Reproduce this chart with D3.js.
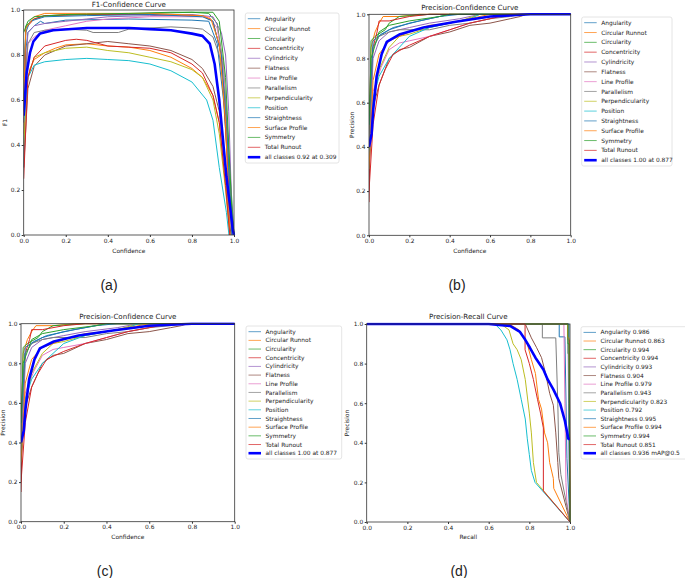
<!DOCTYPE html>
<html>
<head>
<meta charset="utf-8">
<script src="https://cdn.jsdelivr.net/npm/d3@7"></script>
<style>
	body { margin: 0; background: #fff; }
	svg { display: block; }
</style>
</head>
<body>
<div id="chart"></div>
<script>

// classes, in legend order
const classes = ['Angularity','Circular Runnot','Circularity','Concentricity','Cylindricity','Flatness','Line Profile',
	'Parallelism','Perpendicularity','Position','Straightness','Surface Profile','Symmetry','Total Runout']
const colors = ['#1f77b4','#ff7f0e','#2ca02c','#d62728','#9467bd','#8c564b','#e377c2',
	'#7f7f7f','#bcbd22','#17becf','#1f77b4','#ff7f0e','#2ca02c','#d62728']
const ticks = [0, 0.2, 0.4, 0.6, 0.8, 1.0]
const apValues = [0.986,0.863,0.994,0.994,0.993,0.904,0.979,0.943,0.823,0.792,0.995,0.994,0.994,0.851]

// F1 vs confidence, one array per class
const f1Data = [
	[[0,0.3],[0.01,0.82],[0.02,0.9],[0.05,0.93],[0.08,0.95],[0.1,0.94],[0.2,0.955],[0.5,0.96],[0.8,0.955],[0.88,0.95],[0.92,0.85],[0.95,0.6],[0.98,0.2],[0.995,0]],
	[[0,0.45],[0.01,0.65],[0.03,0.74],[0.05,0.78],[0.1,0.81],[0.15,0.83],[0.2,0.845],[0.3,0.85],[0.4,0.84],[0.5,0.835],[0.6,0.82],[0.7,0.79],[0.8,0.74],[0.85,0.7],[0.9,0.62],[0.93,0.5],[0.96,0.25],[0.98,0]],
	[[0,0.6],[0.01,0.93],[0.05,0.96],[0.1,0.975],[0.3,0.98],[0.6,0.985],[0.8,0.99],[0.88,0.985],[0.92,0.94],[0.95,0.75],[0.98,0.3],[1.0,0]],
	[[0,0.5],[0.01,0.92],[0.05,0.96],[0.1,0.975],[0.3,0.98],[0.6,0.98],[0.85,0.975],[0.9,0.95],[0.94,0.8],[0.97,0.3],[0.99,0]],
	[[0,0.55],[0.02,0.9],[0.05,0.93],[0.1,0.94],[0.2,0.95],[0.3,0.96],[0.4,0.97],[0.6,0.975],[0.8,0.98],[0.9,0.97],[0.94,0.9],[0.96,0.8],[0.975,0.55],[0.99,0.1],[1.0,0]],
	[[0,0.3],[0.02,0.65],[0.05,0.75],[0.1,0.8],[0.2,0.84],[0.3,0.85],[0.4,0.86],[0.5,0.85],[0.6,0.84],[0.7,0.82],[0.8,0.78],[0.85,0.74],[0.9,0.66],[0.93,0.55],[0.96,0.3],[0.985,0]],
	[[0,0.5],[0.02,0.85],[0.05,0.88],[0.1,0.91],[0.2,0.93],[0.3,0.95],[0.4,0.96],[0.5,0.965],[0.6,0.97],[0.88,0.97],[0.92,0.92],[0.95,0.75],[0.97,0.4],[0.99,0]],
	[[0,0.6],[0.02,0.85],[0.05,0.9],[0.1,0.91],[0.2,0.915],[0.3,0.91],[0.33,0.9],[0.45,0.9],[0.5,0.915],[0.6,0.92],[0.7,0.925],[0.8,0.92],[0.85,0.915],[0.9,0.88],[0.93,0.8],[0.96,0.6],[0.98,0.2],[0.99,0]],
	[[0,0.4],[0.02,0.7],[0.05,0.79],[0.1,0.81],[0.2,0.83],[0.3,0.835],[0.4,0.82],[0.5,0.81],[0.6,0.79],[0.7,0.77],[0.8,0.735],[0.85,0.7],[0.9,0.6],[0.93,0.45],[0.96,0.2],[0.98,0]],
	[[0,0.5],[0.02,0.7],[0.05,0.755],[0.1,0.77],[0.2,0.78],[0.3,0.785],[0.4,0.78],[0.5,0.775],[0.6,0.76],[0.7,0.73],[0.8,0.68],[0.87,0.6],[0.9,0.51],[0.93,0.3],[0.964,0.1],[0.976,0]],
	[[0,0.7],[0.01,0.9],[0.03,0.95],[0.1,0.97],[0.3,0.975],[0.6,0.98],[0.85,0.97],[0.9,0.95],[0.94,0.8],[0.97,0.4],[0.99,0]],
	[[0,0.6],[0.01,0.92],[0.05,0.97],[0.1,0.985],[0.3,0.985],[0.6,0.985],[0.85,0.975],[0.89,0.96],[0.93,0.85],[0.96,0.5],[0.98,0]],
	[[0,0.9],[0.02,0.95],[0.05,0.97],[0.2,0.98],[0.5,0.985],[0.7,0.99],[0.9,0.99],[0.93,0.95],[0.96,0.7],[0.99,0.1],[1.0,0]],
	[[0,0.25],[0.02,0.7],[0.05,0.79],[0.1,0.84],[0.2,0.865],[0.25,0.87],[0.3,0.865],[0.4,0.84],[0.5,0.835],[0.6,0.83],[0.7,0.81],[0.8,0.76],[0.85,0.72],[0.9,0.62],[0.93,0.5],[0.96,0.22],[0.98,0]]
]
const f1All = [[0,0.53],[0.014,0.72],[0.03,0.81],[0.046,0.86],[0.078,0.896],[0.14,0.91],[0.3,0.92],[0.5,0.92],[0.6,0.915],[0.7,0.91],[0.8,0.895],[0.85,0.885],[0.885,0.85],[0.908,0.76],[0.93,0.6],[0.964,0.26],[0.995,0.02],[1.0,0]]

// precision vs confidence
const pcData = [
	[[0,0.3],[0.01,0.7],[0.02,0.85],[0.05,0.9],[0.1,0.93],[0.2,0.96],[0.3,0.98],[0.4,1],[1,1]],
	[[0,0.4],[0.01,0.85],[0.03,0.92],[0.05,0.96],[0.07,0.99],[0.15,0.99],[0.25,1],[1,1]],
	[[0,0.3],[0.01,0.88],[0.03,0.9],[0.08,0.93],[0.1,0.96],[0.15,0.99],[0.3,1],[1,1]],
	[[0,0.15],[0.01,0.7],[0.02,0.85],[0.04,0.92],[0.05,0.97],[0.1,0.97],[0.2,0.99],[0.3,1],[1,1]],
	[[0,0.3],[0.02,0.8],[0.05,0.88],[0.1,0.92],[0.2,0.94],[0.3,0.96],[0.45,0.98],[0.55,1],[1,1]],
	[[0,0.3],[0.02,0.58],[0.05,0.68],[0.1,0.8],[0.15,0.84],[0.2,0.85],[0.3,0.9],[0.4,0.92],[0.5,0.95],[0.6,0.96],[0.7,0.98],[0.75,0.99],[0.78,1],[1,1]],
	[[0,0.35],[0.02,0.65],[0.06,0.76],[0.1,0.84],[0.15,0.87],[0.2,0.88],[0.3,0.9],[0.4,0.93],[0.5,0.96],[0.6,0.98],[0.65,1],[1,1]],
	[[0,0.4],[0.02,0.85],[0.05,0.9],[0.1,0.92],[0.15,0.93],[0.3,0.93],[0.4,0.95],[0.5,0.96],[0.6,0.98],[0.7,0.99],[0.75,1],[1,1]],
	[[0,0.35],[0.02,0.6],[0.05,0.75],[0.1,0.85],[0.15,0.9],[0.2,0.91],[0.3,0.94],[0.45,0.97],[0.55,1],[1,1]],
	[[0,0.35],[0.02,0.62],[0.05,0.72],[0.1,0.8],[0.15,0.85],[0.2,0.9],[0.3,0.94],[0.4,0.96],[0.5,0.98],[0.55,1],[1,1]],
	[[0,0.5],[0.02,0.88],[0.06,0.91],[0.12,0.94],[0.25,0.97],[0.35,0.99],[0.45,1],[1,1]],
	[[0,0.3],[0.02,0.7],[0.05,0.82],[0.1,0.88],[0.2,0.92],[0.3,0.95],[0.4,0.96],[0.5,0.98],[0.6,1],[1,1]],
	[[0,0.5],[0.01,0.8],[0.05,0.92],[0.1,0.95],[0.2,0.97],[0.35,0.99],[0.4,1],[1,1]],
	[[0,0.2],[0.02,0.5],[0.05,0.68],[0.08,0.75],[0.12,0.82],[0.2,0.86],[0.3,0.9],[0.4,0.93],[0.5,0.96],[0.6,0.98],[0.7,1],[1,1]]
]
const pcAll = [[0,0.4],[0.013,0.46],[0.021,0.57],[0.038,0.72],[0.063,0.82],[0.088,0.875],[0.154,0.91],[0.27,0.94],[0.43,0.966],[0.6,0.99],[0.8,1],[1,1]]

// precision vs recall
const prData = [
	[[0,1],[0.947,1],[0.947,0.935],[0.975,0.935],[0.985,0.32],[1,0]],
	[[0,1],[0.7,1],[0.75,0.97],[0.79,0.9],[0.81,0.82],[0.83,0.75],[0.845,0.62],[0.86,0.57],[0.875,0.45],[0.89,0.4],[0.9,0.3],[0.918,0.22],[0.92,0.17],[1,0]],
	[[0,1],[0.99,1],[0.99,0.85],[0.997,0.85],[1,0]],
	[[0,1],[0.99,1],[0.99,0.92],[0.997,0.92],[1,0]],
	[[0,1],[0.99,1],[0.993,0.6],[0.997,0.2],[1,0]],
	[[0,1],[0.78,1],[0.81,0.93],[0.836,0.88],[0.86,0.83],[0.88,0.75],[0.9,0.65],[0.918,0.59],[0.93,0.45],[0.94,0.3],[0.945,0.22],[1,0]],
	[[0,1],[0.97,1],[0.975,0.6],[0.98,0.2],[0.985,0.1],[1,0]],
	[[0,1],[0.864,1],[0.864,0.93],[0.93,0.93],[0.94,0.6],[0.945,0.35],[0.955,0.24],[1,0]],
	[[0,1],[0.66,1],[0.7,0.97],[0.72,0.9],[0.74,0.87],[0.76,0.82],[0.78,0.72],[0.8,0.55],[0.81,0.45],[0.82,0.3],[0.835,0.2],[1,0]],
	[[0,1],[0.63,1],[0.66,0.97],[0.69,0.92],[0.705,0.87],[0.72,0.8],[0.74,0.72],[0.76,0.62],[0.78,0.52],[0.79,0.42],[0.8,0.34],[0.81,0.26],[0.828,0.2],[1,0]],
	[[0,1],[0.995,1],[0.995,0.5],[1,0]],
	[[0,1],[0.988,1],[0.988,0.93],[0.995,0.93],[1,0]],
	[[0,1],[0.99,1],[0.99,0.9],[0.995,0.9],[1,0]],
	[[0,1],[0.779,1],[0.779,0.87],[0.8,0.8],[0.82,0.72],[0.84,0.62],[0.855,0.55],[0.869,0.475],[0.869,0.157],[1,0]]
]
const prAll = [[0,1],[0.6,1],[0.65,0.995],[0.705,0.99],[0.754,0.96],[0.78,0.92],[0.803,0.88],[0.83,0.83],[0.869,0.77],[0.89,0.72],[0.918,0.67],[0.951,0.6],[0.975,0.51],[0.992,0.42],[1,0.42]]

const svg = d3.select('#chart').append('svg').attr('width', 685).attr('height', 578)
const font = 'DejaVu Sans, sans-serif'
const fs = 5.9, titleFs = 7.1

// layout per panel: plot box [x0,y0,x1,y1], legend box, text spots
const panels = [
	{ id:'a', box:[23.7,10,234,235], title:'F1-Confidence Curve', titleY:4, xl:'Confidence', xlY:251, yl:'F1', ylX:5,
	  data:f1Data, all:f1All, allLabel:'all classes 0.92 at 0.309', legend:[245.3,13,339,163], labels:classes, cap:[109,285,'(a)'] },
	{ id:'b', box:[369,14.3,570.7,235.3], title:'Precision-Confidence Curve', titleY:7.5, xl:'Confidence', xlY:251, yl:'Precision', ylX:351.5,
	  data:pcData, all:pcAll, allLabel:'all classes 1.00 at 0.877', legend:[581.7,17,672,166], labels:classes, cap:[457,285,'(b)'] },
	{ id:'c', box:[21,323.7,234.7,521.7], title:'Precision-Confidence Curve', titleY:317, xl:'Confidence', xlY:537, yl:'Precision', ylX:3,
	  data:pcData, all:pcAll, allLabel:'all classes 1.00 at 0.877', legend:[246,326,341.7,459], labels:classes, cap:[105,571,'(c)'] },
	{ id:'d', box:[366.7,324,570,522], title:'Precision-Recall Curve', titleY:317, xl:'Recall', xlY:537, yl:'Precision', ylX:347,
	  data:prData, all:prAll, allLabel:'all classes 0.936 mAP@0.5', legend:[581,326.7,700,459],
	  labels:classes.map((c,i)=>c+' '+apValues[i].toFixed(3)), cap:[459,571,'(d)'] }
]

panels.forEach(drawPanel)

function drawPanel(p) {
	let [x0,y0,x1,y1] = p.box
	let x = d3.scaleLinear().domain([0,1]).range([x0,x1])
	let y = d3.scaleLinear().domain([0,1]).range([y1,y0])
	let g = svg.append('g')

	svg.append('clipPath').attr('id','clip-'+p.id)
		.append('rect').attr('x',x0).attr('y',y0-1.5).attr('width',x1-x0+1.5).attr('height',y1-y0+1.5)

	let line = d3.line().x(d=>x(d[0])).y(d=>y(d[1]))
	let lines = g.append('g').attr('clip-path',`url(#clip-${p.id})`)
	lines.selectAll('path.cls').data(p.data).join('path').attr('class','cls')
		.attr('d', line).attr('fill','none').attr('stroke',(d,i)=>colors[i]).attr('stroke-width',1)
	lines.append('path').datum(p.all).attr('d', line).attr('fill','none')
		.attr('stroke','#0000ff').attr('stroke-width',2.6).attr('stroke-linejoin','round')

	let fmt = d3.format('.1f')
	let xa = g.append('g').attr('transform',`translate(0,${y1})`)
		.call(d3.axisBottom(x).tickValues(ticks).tickFormat(fmt).tickSize(2).tickPadding(1.5))
	let ya = g.append('g').attr('transform',`translate(${x0},0)`)
		.call(d3.axisLeft(y).tickValues(ticks).tickFormat(fmt).tickSize(2).tickPadding(1.5))
	;[xa,ya].forEach(a => {
		a.select('.domain').remove()
		a.selectAll('line').attr('stroke','#333')
		a.selectAll('text').attr('font-family',font).attr('font-size',fs).attr('fill','#222')
	})

	g.append('rect').attr('x',x0).attr('y',y0).attr('width',x1-x0).attr('height',y1-y0)
		.attr('fill','none').attr('stroke','#333').attr('stroke-width',0.8)

	g.append('text').attr('x',(x0+x1)/2).attr('y',p.titleY).attr('dy','0.35em').attr('text-anchor','middle')
		.attr('font-family',font).attr('font-size',titleFs).attr('fill','#222').text(p.title)
	g.append('text').attr('x',(x0+x1)/2).attr('y',p.xlY).attr('dy','0.35em').attr('text-anchor','middle')
		.attr('font-family',font).attr('font-size',fs).attr('fill','#222').text(p.xl)
	g.append('text').attr('transform',`translate(${p.ylX},${(y0+y1)/2}) rotate(-90)`).attr('dy','0.35em')
		.attr('text-anchor','middle').attr('font-family',font).attr('font-size',fs).attr('fill','#222').text(p.yl)

	// legend
	let [lx0,ly0,lx1,ly1] = p.legend
	g.append('rect').attr('x',lx0).attr('y',ly0).attr('width',lx1-lx0).attr('height',ly1-ly0).attr('rx',2)
		.attr('fill','#fff').attr('stroke','#ddd').attr('stroke-width',0.8)
	let step = (ly1-ly0-11.5)/14
	let items = p.labels.map((t,i)=>({t, c:colors[i], w:1})).concat([{t:p.allLabel, c:'#0000ff', w:2.6}])
	let li = g.selectAll('g.li-'+p.id).data(items).join('g').attr('class','li-'+p.id)
		.attr('transform',(d,i)=>`translate(${lx0},${ly0+5.7+i*step})`)
	li.append('line').attr('x1',2.5).attr('x2',15).attr('stroke',d=>d.c).attr('stroke-width',d=>d.w)
		.attr('stroke-opacity',d=>d.w>2?1:0.7)
	li.append('text').attr('x',19.5).attr('dy','0.35em').attr('font-family',font).attr('font-size',fs)
		.attr('fill','#222').text(d=>d.t)

	svg.append('text').attr('x',p.cap[0]).attr('y',p.cap[1]).attr('dy','0.35em').attr('text-anchor','middle')
		.attr('font-family','Liberation Sans, Arial, sans-serif').attr('font-size',14).attr('fill','#222').text(p.cap[2])
}

</script>
</body>
</html>
